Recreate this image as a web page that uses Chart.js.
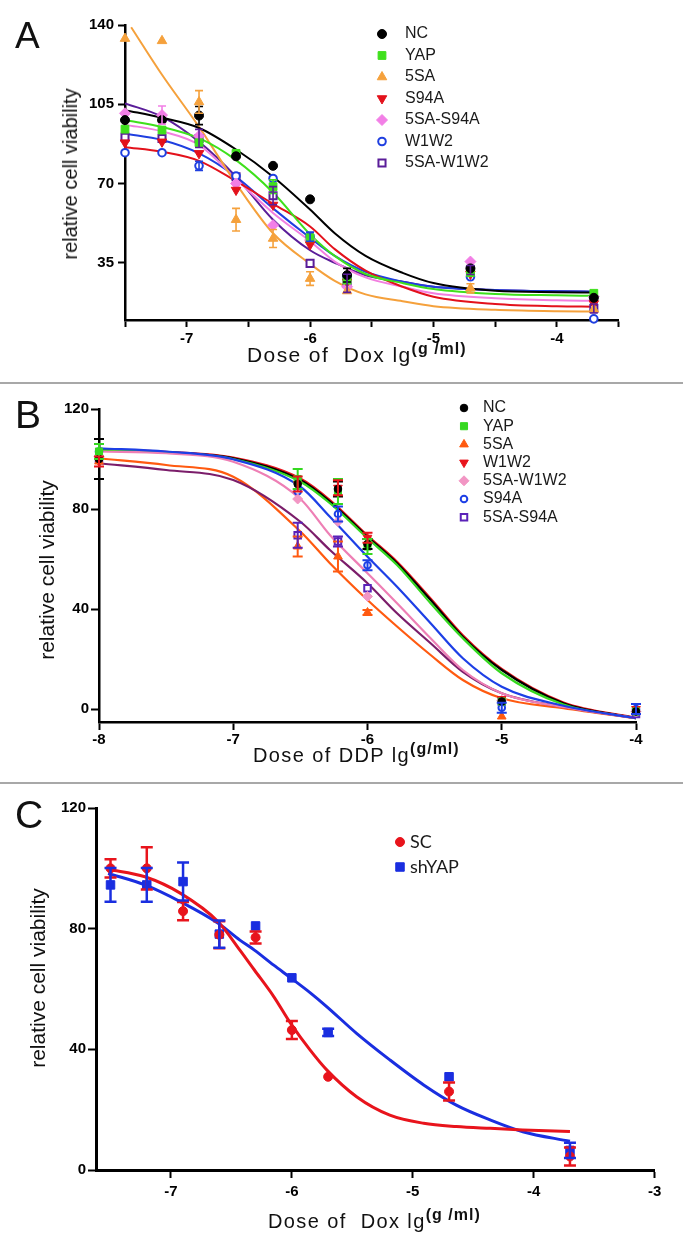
<!DOCTYPE html>
<html>
<head>
<meta charset="utf-8">
<script src="https://cdn.jsdelivr.net/npm/chart.js@4.4.1/dist/chart.umd.min.js"></script>
<style>
  body { margin: 0; background: #fff; }
  #page { position: relative; width: 683px; height: 1249px; overflow: hidden;
          font-family: 'Liberation Sans', Arial, sans-serif; color: #111; }
  .panel { position: absolute; left: 0; width: 683px; }
  .txt { position: absolute; z-index: 2; white-space: pre; line-height: 1; }
  .letter { left: 15px; }
  .ytitle { transform: translate(-50%, -50%) rotate(-90deg); }
  .xtitle { letter-spacing: 1.4px; }
  .xtitle span { font-size: 16px; font-weight: bold; position: relative; top: -8px; letter-spacing: 1px; }
  .sep { position: absolute; left: 0; width: 683px; height: 2px; background: #a8a8a8; }
</style>
</head>
<body>
<div id="page">
  <div class="panel" style="top:0;height:383px"><canvas id="chart-a"></canvas></div>
  <div class="sep" style="top:382px"></div>
  <div class="panel" style="top:384px;height:399px"><canvas id="chart-b"></canvas></div>
  <div class="sep" style="top:782px"></div>
  <div class="panel" style="top:784px;height:465px"><canvas id="chart-c"></canvas></div>

  <div class="txt letter" style="top:17px;font-size:37px">A</div>
  <div class="txt letter" style="top:395px;font-size:39px">B</div>
  <div class="txt letter" style="top:795px;font-size:39px">C</div>

  <div class="txt ytitle" style="left:70px;top:174px;font-size:20px">relative cell viability</div>
  <div class="txt ytitle" style="left:46px;top:570px;font-size:21px">relative cell viability</div>
  <div class="txt ytitle" style="left:37px;top:978px;font-size:21px">relative cell viability</div>

  <div class="txt xtitle" style="left:247px;top:344px;font-size:21px">Dose of  Dox lg<span>(g /ml)</span></div>
  <div class="txt xtitle" style="left:253px;top:745px;font-size:20px">Dose of DDP lg<span>(g/ml)</span></div>
  <div class="txt xtitle" style="left:268px;top:1211px;font-size:20px">Dose of  Dox lg<span>(g /ml)</span></div>
</div>

<script>
/* Dose-response panels A (Dox), B (DDP), C (Dox, shYAP) */

var FONT = "'Liberation Sans', Arial, sans-serif";

// ---- Panel A: Dox, measured points
var aDoses = [-7.5, -7.2, -6.9, -6.6, -6.3, -6.0, -5.7, -4.7, -3.7];
var aNC      = [98, 98, 100, 82, 77.8, 63, 29.5, 32.5, 19.5];
var aYAP     = [94, 93.6, 88, 83.3, 68.6, 46, 27.3, 30.6, 21.5];
var a5SA     = [134, 133, 106, 54, 45.7, 28, 22.5, 23.7, 14.4];
var aS94A    = [88, 88.4, 83.3, 67.1, 60.5, 43, 26.6, 30, 17];
var a5SAS94A = [101, 100.2, 91, 70, 51.6, 45, 24.4, 35.5, 20];
var aW1W2    = [83.6, 83.6, 77.8, 73.3, 72.2, 46.5, 28.8, 28.8, 10.2];
var a5SAW1W2 = [90.4, 89.9, 89.9, 73, 64.6, 34.7, 25.9, 31.8, 14.8];
var aErrNC   = [0, 0, 4, 0, 0, 0, 3, 0, 0];
var aErrYAP  = [0, 0, 0, 0, 3, 0, 0, 0, 0];
var aErr5SA  = [0, 0, 5, 5, 4, 3, 0, 2, 0];
var aErrPink = [0, 4, 0, 0, 0, 0, 0, 0, 0];
var aErrBlue = [0, 0, 2, 0, 0, 2, 0, 0, 0];
var aErrPurp = [0, 0, 4, 0, 4, 0, 4, 2, 2];

// ---- Panel A: fitted curves
var aFitX     = [-7.5, -7.2, -6.9, -6.6, -6.3, -6.0, -5.8, -5.55, -5.25, -5.0, -4.5, -4.0, -3.7];
var aFitNC    = [102.4, 99, 94.5, 85, 73, 58.5, 48, 38, 30.5, 26, 22.6, 22, 21.8];
var aFitYAP   = [98, 95, 90, 80.3, 66, 47.5, 38, 30, 26, 23.4, 21.2, 20.6, 20.4];
var aFit5SAX  = [-7.45, -7.2, -6.9, -6.6, -6.3, -6.0, -5.8, -5.55, -5.25, -5.0, -4.5, -4.0, -3.7];
var aFit5SA   = [139, 118, 95, 70, 48, 34.5, 27, 21, 18, 15.8, 14.2, 13.6, 13.4];
var aFitS94A  = [86, 84, 80, 71, 61, 51, 41, 31.5, 24.4, 20, 16.8, 15.8, 15.6];
var aFitPink  = [96, 93, 87, 72, 57, 44.5, 35.5, 28.5, 24.4, 21.5, 19.3, 18.4, 18.2];
var aFitW1W2  = [92, 89.2, 83.3, 73, 59, 46, 38, 31, 26.6, 24.4, 23, 22.4, 22.2];
var aFitPurp  = [105.4, 99.5, 88.4, 73, 54, 40.5, 35, 29.5, 26.6, 24.4, 23, 22.4, 22.2];
var aXTicks   = [-7.5, -7, -6.5, -6, -5.5, -5, -4.5, -4, -3.5];
var aXLabels  = [-7, -6, -5, -4];
var aYTicks   = [35, 70, 105, 140];

// ---- Panel B: DDP, measured points
var bDoses = [-8, -6.52, -6.22, -6, -5, -4];
var bNC      = [100, 90, 88, 66, 3, -1];
var bYAP     = [103, 92, 87, 65, 3, -1];
var b5SA     = [99, 65, 61, 38.6, -3, -1];
var bW1W2    = [99, 90, 88.5, 68.5, 4, 0];
var b5SAW1W2 = [101, 84, 75, 45, 3.5, -1];
var bS94A    = [103, 87, 78, 57.5, 0.5, 0];
var b5SAS94A = [100, 69.5, 67, 48.3, 3, -2];
var bErrNC   = [8, 0, 3, 2, 0, 0];
var bErrYAP  = [3, 4, 5, 3, 0, 0];
var bErr5SA  = [0, 4, 6, 1, 0, 0];
var bErrW1W2 = [2, 3, 3, 2, 0, 2];
var bErrS94A = [0, 0, 3, 2, 2, 2];
var bErrPurp = [0, 5, 2, 0, 0, 0];

// ---- Panel B: fitted curves
var bFitX     = [-8, -7.5, -7, -6.5, -6.28, -6.0, -5.78, -5.53, -5.29, -5.0, -4.54, -4.0];
var bFitNC    = [103.6, 102.7, 100.3, 91.6, 83, 68.9, 58.3, 43.6, 28.9, 15.6, 2.3, -3.7];
var bFitYAP   = [103.6, 102.7, 100, 90.9, 82.3, 68.3, 57.6, 42.3, 28.3, 14.3, 1.8, -3.7];
var bFit5SA   = [100.3, 97.6, 92.9, 71, 58.3, 43.6, 33, 21.6, 11.6, 4.3, 0.3, -3.7];
var bFitW1W2  = [103.8, 102.9, 100.6, 92.2, 83.6, 69.4, 58.9, 44.2, 29.5, 16, 2.6, -3.5];
var bFitPink  = [103, 102.3, 98.9, 84, 69.6, 54.3, 42.3, 28.3, 15.6, 6.3, 0.8, -3.7];
var bFitS94A  = [104.3, 103, 99.9, 88.9, 76.9, 60.9, 48.9, 34.3, 20.3, 8.9, 1.3, -3.7];
var bFitPurp  = [98.3, 95.6, 91.6, 74.9, 63.6, 50.3, 38.3, 26.3, 14.9, 6.3, 0.8, -3.7];
var bXTicks   = [-8, -7, -6, -5, -4];
var bYTicks   = [0, 40, 80, 120];

// ---- Panel C: Dox, SC vs shYAP
var cDoses  = [-7.5, -7.2, -6.9, -6.6, -6.3, -6.0, -5.7, -4.7, -3.7];
var cSC     = [100, 100, 85.8, 78, 77.1, 46.4, 30.9, 26, 4.5];
var cSCErr  = [3, 7, 3, 4.5, 2, 3, 0, 3, 3];
var cYAP    = [94.5, 94.5, 95.6, 78.2, 80.9, 63.7, 45.6, 30.9, 6.5];
var cYAPErr = [5.6, 5.6, 6.3, 4.5, 0, 0, 1.2, 0, 2.5];
var cFitX   = [-7.52, -7.215, -6.92, -6.61, -6.43, -6.31, -6.15, -6.01, -5.85, -5.71, -5.465, -5.19, -4.91, -4.64, -4.36, -4.09, -3.7];
var cFitSC  = [99.7, 97.2, 91.7, 82.3, 72.9, 66.3, 57.5, 48.6, 39.8, 33.1, 24.3, 18.2, 15.5, 14.4, 13.8, 13.3, 12.8];
var cFitYAP = [98.3, 94.5, 88.9, 81.8, 76.2, 72.9, 67.9, 63.7, 58.8, 54.1, 45.3, 36.5, 28.2, 21.5, 16.6, 12.7, 9.5];
var cXTicks = [-7, -6, -5, -4, -3];
var cYTicks = [0, 40, 80, 120];

function pts(xs, ys) {
    return xs.map(function(x, i) { return { x: x, y: ys[i] }; });
}

function markerSet(label, xs, ys, errs, st) {
    return {
        label: label,
        legendText: label,
        data: pts(xs, ys),
        errors: errs,
        errColor: st.err || st.color,
        showLine: false,
        pointStyle: st.shape,
        pointRadius: st.r,
        pointRotation: st.rot || 0,
        pointBackgroundColor: st.fill || st.color,
        pointBorderColor: st.color,
        pointBorderWidth: st.bw || 1,
        clip: false
    };
}

function curveSet(xs, ys, color, width) {
    return {
        label: '',
        data: pts(xs, ys),
        showLine: true,
        pointRadius: 0,
        borderColor: color,
        borderWidth: width,
        cubicInterpolationMode: 'monotone',
        fill: false
    };
}

// vertical error bars with caps
var errorBars = {
    id: 'errorBars',
    afterDatasetsDraw: function(chart, args, opts) {
        var ctx = chart.ctx;
        var ys = chart.scales.y;
        chart.data.datasets.forEach(function(ds, i) {
            if (!ds.errors) return;
            var meta = chart.getDatasetMeta(i);
            ctx.save();
            ctx.strokeStyle = ds.errColor;
            ctx.lineWidth = opts.width;
            meta.data.forEach(function(pt, j) {
                var e = ds.errors[j];
                if (!e) return;
                var v = ds.data[j].y;
                var top = ys.getPixelForValue(v + e);
                var bot = ys.getPixelForValue(v - e);
                ctx.beginPath();
                ctx.moveTo(pt.x, top); ctx.lineTo(pt.x, bot);
                ctx.moveTo(pt.x - opts.cap, top); ctx.lineTo(pt.x + opts.cap, top);
                ctx.moveTo(pt.x - opts.cap, bot); ctx.lineTo(pt.x + opts.cap, bot);
                ctx.stroke();
            });
            ctx.restore();
        });
    }
};

// legend drawn at a fixed spot inside the plot
var fixedLegend = {
    id: 'fixedLegend',
    afterDraw: function(chart, args, opts) {
        var ctx = chart.ctx;
        var row = 0;
        chart.data.datasets.forEach(function(ds) {
            if (!ds.legendText) return;
            var y = opts.y + row * opts.dy;
            row++;
            ctx.save();
            ctx.fillStyle = ds.pointBackgroundColor;
            ctx.strokeStyle = ds.pointBorderColor;
            ctx.lineWidth = ds.pointBorderWidth;
            Chart.helpers.drawPoint(ctx, {
                pointStyle: ds.pointStyle,
                radius: ds.pointRadius,
                rotation: ds.pointRotation,
                borderWidth: ds.pointBorderWidth
            }, opts.x, y);
            ctx.fillStyle = '#1a1a1a';
            ctx.font = opts.font;
            ctx.textBaseline = 'middle';
            ctx.fillText(ds.legendText, opts.textX, y);
            ctx.restore();
        });
    }
};

function axisSet(o) {
    var tickFont = { family: FONT, size: 15, weight: 'bold' };
    return {
        x: {
            type: 'linear', min: o.xmin, max: o.xmax,
            afterBuildTicks: function(s) { s.ticks = o.xticks.map(function(v) { return { value: v }; }); },
            afterFit: function(s) { s.height = o.xh; },
            ticks: {
                autoSkip: false, maxRotation: 0, padding: o.xpad, color: '#000', font: tickFont,
                callback: function(v) { return o.xlabels.indexOf(v) >= 0 ? String(v) : ''; }
            },
            grid: { drawOnChartArea: false, drawTicks: true, tickLength: o.tick, tickWidth: 2, tickColor: '#000' },
            border: { display: true, color: '#000', width: o.bw }
        },
        y: {
            type: 'linear', min: o.ymin, max: o.ymax,
            afterBuildTicks: function(s) { s.ticks = o.yticks.map(function(v) { return { value: v }; }); },
            afterFit: function(s) { s.width = o.yw; },
            ticks: { autoSkip: false, padding: o.ypad, color: '#000', font: tickFont },
            grid: { drawOnChartArea: false, drawTicks: true, tickLength: o.tick, tickWidth: 2, tickColor: '#000' },
            border: { display: true, color: '#000', width: o.bw }
        }
    };
}

function makeChart(id, datasets, scales, pad, legendOpts, errOpts) {
    return new Chart(document.getElementById(id), {
        type: 'scatter',
        data: { datasets: datasets },
        options: {
            responsive: true,
            maintainAspectRatio: false,
            animation: false,
            layout: { padding: pad },
            plugins: {
                legend: { display: false },
                tooltip: { enabled: false },
                fixedLegend: legendOpts,
                errorBars: errOpts
            },
            scales: scales
        },
        plugins: [errorBars, fixedLegend]
    });
}

// ---- Panel A
var aSets = [
    markerSet('NC', aDoses, aNC, aErrNC, { shape: 'circle', r: 4.5, color: '#000' }),
    markerSet('YAP', aDoses, aYAP, aErrYAP, { shape: 'rect', r: 5.5, color: '#3fe01c' }),
    markerSet('5SA', aDoses, a5SA, aErr5SA, { shape: 'triangle', r: 5.5, color: '#f5a13c' }),
    markerSet('S94A', aDoses, aS94A, null, { shape: 'triangle', r: 5.5, rot: 180, color: '#e3111b' }),
    markerSet('5SA-S94A', aDoses, a5SAS94A, aErrPink, { shape: 'rectRot', r: 5.5, color: '#f27fe6' }),
    markerSet('W1W2', aDoses, aW1W2, aErrBlue, { shape: 'circle', r: 3.8, color: '#1f3fe0', fill: '#fff', bw: 2 }),
    markerSet('5SA-W1W2', aDoses, a5SAW1W2, aErrPurp, { shape: 'rect', r: 5, color: '#5a1d99', fill: '#fff', bw: 2 }),
    curveSet(aFitX, aFitNC, '#000', 2),
    curveSet(aFitX, aFitYAP, '#3fe01c', 2),
    curveSet(aFit5SAX, aFit5SA, '#f5a13c', 2),
    curveSet(aFitX, aFitS94A, '#e3111b', 2),
    curveSet(aFitX, aFitPink, '#f27fe0', 2),
    curveSet(aFitX, aFitW1W2, '#1f3fe0', 2),
    curveSet(aFitX, aFitPurp, '#5a1d99', 2)
];
makeChart('chart-a', aSets,
    axisSet({ xmin: -7.5, xmax: -3.5, xticks: aXTicks, xlabels: aXLabels, ymin: 9.7, ymax: 140, yticks: aYTicks,
              xh: 63, yw: 125, tick: 7, xpad: 3, ypad: 4, bw: 2.5 }),
    { top: 25, right: 64.5, left: 0, bottom: 0 },
    { x: 382, textX: 405, y: 34, dy: 21.5, font: '16px ' + FONT },
    { width: 1.6, cap: 4 });

// ---- Panel B
var bSets = [
    markerSet('NC', bDoses, bNC, bErrNC, { shape: 'circle', r: 3.8, color: '#000' }),
    markerSet('YAP', bDoses, bYAP, bErrYAP, { shape: 'rect', r: 5, color: '#35d820' }),
    markerSet('5SA', bDoses, b5SA, bErr5SA, { shape: 'triangle', r: 5, color: '#ff5a10' }),
    markerSet('W1W2', bDoses, bW1W2, bErrW1W2, { shape: 'triangle', r: 5, rot: 180, color: '#e8141c' }),
    markerSet('5SA-W1W2', bDoses, b5SAW1W2, null, { shape: 'rectRot', r: 5, color: '#f296c4' }),
    markerSet('S94A', bDoses, bS94A, bErrS94A, { shape: 'circle', r: 3.3, color: '#1d3fe6', fill: '#fff', bw: 2 }),
    markerSet('5SA-S94A', bDoses, b5SAS94A, bErrPurp, { shape: 'rect', r: 4.6, color: '#5b22b8', fill: '#fff', bw: 2 }),
    curveSet(bFitX, bFitS94A, '#1d3fe6', 2.2),
    curveSet(bFitX, bFitPink, '#ee7fb5', 2.2),
    curveSet(bFitX, bFitPurp, '#7b1d6a', 2.2),
    curveSet(bFitX, bFit5SA, '#ff5a10', 2.2),
    curveSet(bFitX, bFitYAP, '#35d820', 2.2),
    curveSet(bFitX, bFitNC, '#000', 2.2),
    curveSet(bFitX, bFitW1W2, '#e8141c', 2.2)
];
makeChart('chart-b', bSets,
    axisSet({ xmin: -8, xmax: -4, xticks: bXTicks, xlabels: bXTicks, ymin: -5.2, ymax: 120, yticks: bYTicks,
              xh: 61, yw: 99, tick: 8, xpad: 1, ypad: 2, bw: 2.5 }),
    { top: 25, right: 47, left: 0, bottom: 0 },
    { x: 464, textX: 483, y: 24, dy: 18.2, font: '16px ' + FONT },
    { width: 2, cap: 5 });

// ---- Panel C
var cSets = [
    markerSet('SC', cDoses, cSC, cSCErr, { shape: 'circle', r: 4.5, color: '#e8141c' }),
    markerSet('shYAP', cDoses, cYAP, cYAPErr, { shape: 'rect', r: 6, color: '#1a2ee0' }),
    curveSet(cFitX, cFitSC, '#e8141c', 3),
    curveSet(cFitX, cFitYAP, '#1a2ee0', 3)
];
makeChart('chart-c', cSets,
    axisSet({ xmin: -7.62, xmax: -3, xticks: cXTicks, xlabels: cXTicks, ymin: 0, ymax: 120, yticks: cYTicks,
              xh: 79, yw: 96, tick: 8, xpad: 5, ypad: 2, bw: 3 }),
    { top: 24, right: 28.4, left: 0, bottom: 0 },
    { x: 400, textX: 410, y: 58, dy: 25, font: "18px Lato, 'Liberation Sans', sans-serif" },
    { width: 2.5, cap: 6 });
</script>
</body>
</html>
